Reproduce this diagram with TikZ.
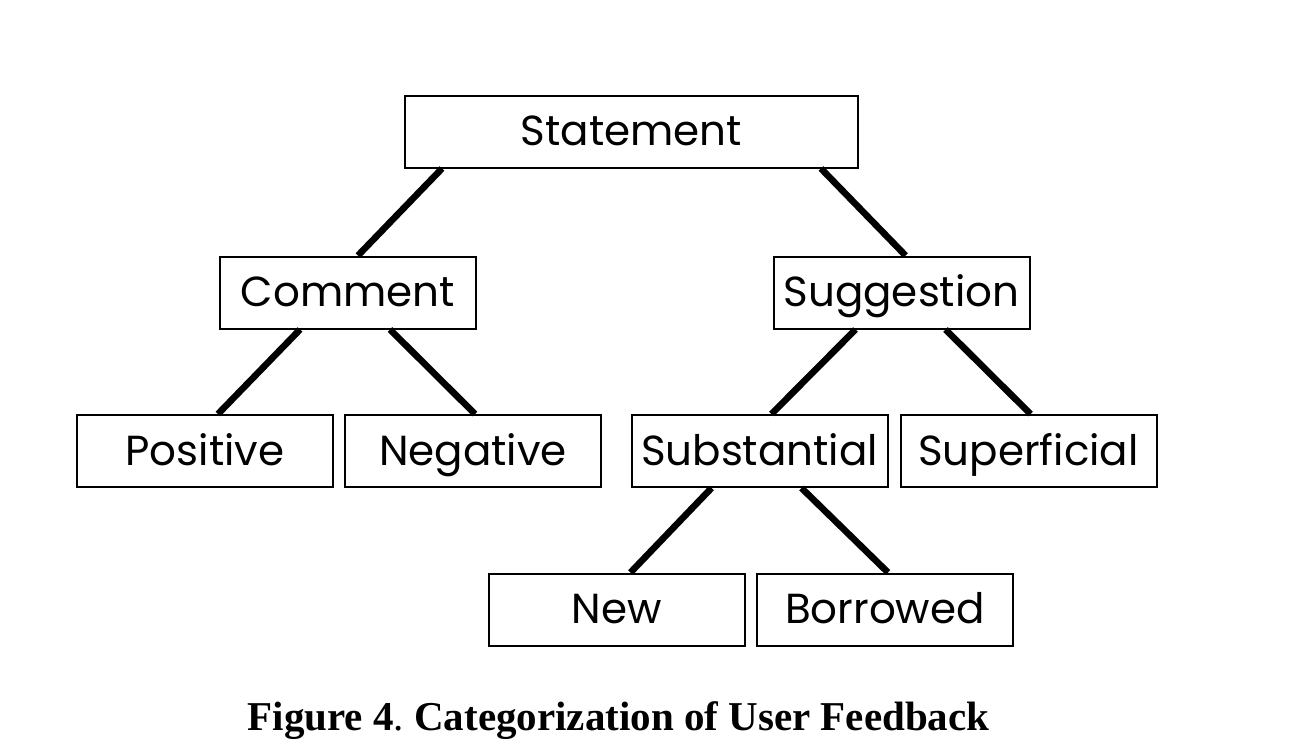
\documentclass[tikz,border=0pt]{standalone}
\usepackage{fontspec}
\setmainfont{Liberation Serif}
\newfontfamily\boxfont{Poppins}
\usepackage{tikz}
\usetikzlibrary{arrows}
\tikzset{
    catnode/.style = {draw=black, line width=1pt, align=center, inner sep=0pt, text centered,
                      text height=15pt, text depth=1pt,
                      minimum width=128pt, minimum height=36pt, font=\boxfont\fontsize{21}{24}\selectfont},
    topnode/.style = {catnode, minimum width=226.5pt},
    link/.style = {-, line width=3.3pt, black}
}

\begin{document}
\begin{tikzpicture}[x=0.5pt, y=-0.5pt]
            \useasboundingbox (0,0) rectangle (1314,756);

            % categories
            \node [topnode] (stmt) at (631.5,131.5) {Statement};
            \node [catnode] (cmt) at (348,292.5) {Comment};
            \node [catnode] (sug) at (901.5,292.5) {Suggestion};
            \node [catnode] (pos) at (205,451) {Positive};
            \node [catnode] (neg) at (473,451) {Negative};
            \node [catnode] (sub) at (759.5,451) {Substantial};
            \node [catnode] (sup) at (1028.5,451) {Superficial};
            \node [catnode] (new) at (616.5,609.5) {New};
            \node [catnode] (bor) at (885,609.5) {Borrowed};

            % links
            \draw [link] ([xshift=19pt]stmt.south west) -- ([xshift=5pt]cmt.north);
            \draw [link] ([xshift=-19pt]stmt.south east) -- ([xshift=2pt]sug.north);
            \draw [link] ([xshift=-24pt]cmt.south) -- ([xshift=6.5pt]pos.north);
            \draw [link] ([xshift=21pt]cmt.south) -- ([xshift=1pt]neg.north);
            \draw [link] ([xshift=-23pt]sug.south) -- ([xshift=6pt]sub.north);
            \draw [link] ([xshift=22pt]sug.south) -- ([xshift=1pt]sup.north);
            \draw [link] ([xshift=-24pt]sub.south) -- ([xshift=7pt]new.north);
            \draw [link] ([xshift=21pt]sub.south) -- ([xshift=1.5pt]bor.north);

            % caption
            \node [anchor=base, font=\fontsize{20.5}{24}\selectfont] (cap) at (618.5,730)
                {\textbf{Figure 4}.\ \textbf{Categorization of User Feedback}};
\end{tikzpicture}
\end{document}
